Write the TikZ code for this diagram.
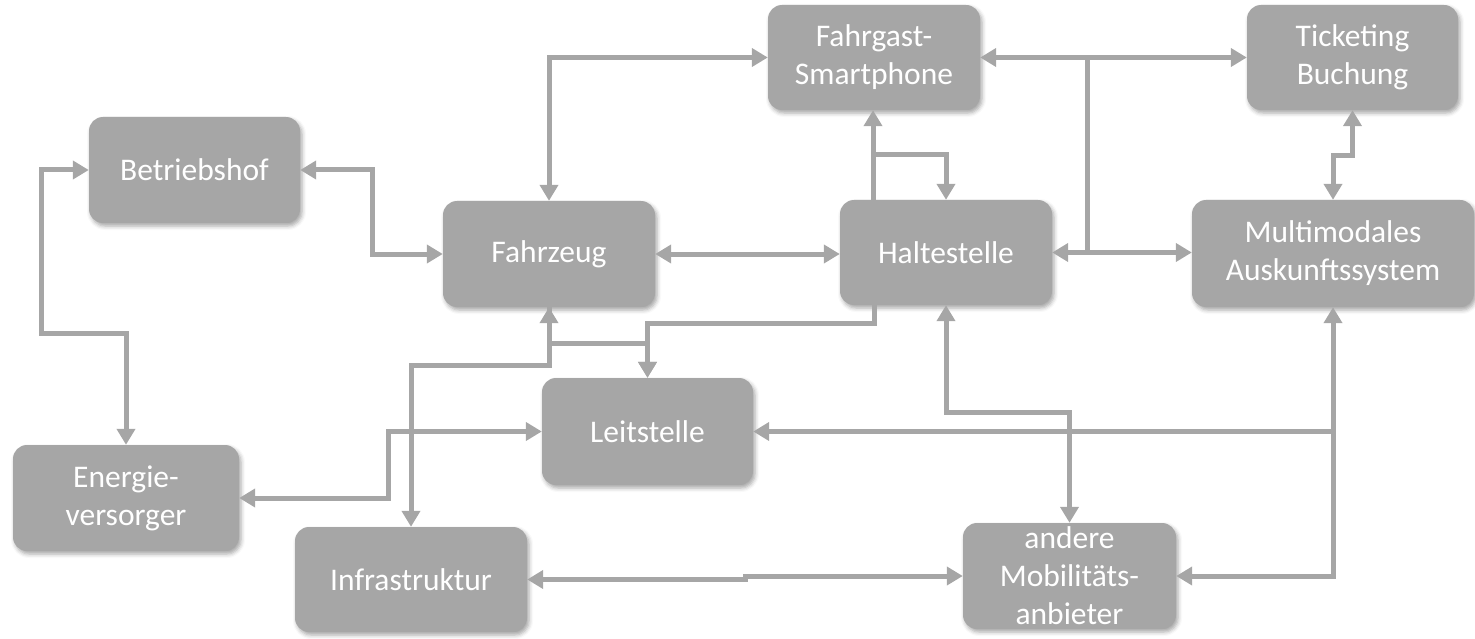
\documentclass[tikz,border=0pt]{standalone}
\usepackage{fontspec}
\setmainfont{Carlito}
\usetikzlibrary{arrows.meta,shadows.blur}
\definecolor{boxgray}{HTML}{A6A6A6}
\definecolor{linegray}{HTML}{A6A6A6}
\begin{document}
\begin{tikzpicture}[x=1pt,y=-1pt,
  >={Triangle[width=18pt,length=16pt]},
  box/.style={rounded corners=14pt, fill=boxgray, text=white, align=center,
    inner sep=0pt, font=\fontsize{31.5}{38}\selectfont,
    blur shadow={shadow xshift=2pt, shadow yshift=-3pt, shadow blur radius=4pt, shadow opacity=35}},
  conn/.style={draw=linegray, line width=5pt}]
\useasboundingbox (0,0) rectangle (1475,639);

% nodes
\node[box, minimum width=211pt, minimum height=106pt] (bh) at (194.5,170) {Betriebshof};
\node[box, minimum width=212pt, minimum height=106pt] (fz) at (549,254) {Fahrzeug};
\node[box, minimum width=212pt, minimum height=105pt] (sp) at (874,57.5) {Fahrgast-\\Smartphone};
\node[box, minimum width=211pt, minimum height=105pt] (tk) at (1352.5,57.5) {Ticketing\\Buchung};
\node[box, minimum width=212pt, minimum height=105pt] (hs) at (946,252.5) {Haltestelle};
\node[box, minimum width=282pt, minimum height=107pt] (mm) at (1333,253.5) {Multimodales\\Auskunftssystem};
\node[box, minimum width=211pt, minimum height=107pt] (ls) at (647.5,431.5) {Leitstelle};
\node[box, minimum width=226pt, minimum height=106pt] (ev) at (126,498) {Energie-\\versorger};
\node[box, minimum width=232pt, minimum height=105pt] (inf) at (411,579.5) {Infrastruktur};
\node[box, minimum width=213pt, minimum height=106pt] (am) at (1069.5,576) {andere\\Mobilitäts-\\anbieter};

% connectors
\draw[conn,<->] (bh.west) -- ++(-47,0) |- (126,333) -- (ev.north);
\draw[conn,<->] (bh.east) -- ++(72,0) |- (fz.west);
\draw[conn,<->] (fz.north) |- (sp.west);
\draw[conn,<->] (fz.east) -- (hs.west |- fz.east);
\draw[conn,<->] (sp.east) -- (tk.west);
\draw[conn] ([xshift=107pt]sp.east) -- ([xshift=35pt]hs.east);
\draw[conn,<->] (hs.east) -- (hs.east -| mm.west);
\draw[conn,->] ([xshift=-73pt]hs.north) -- ([xshift=-1pt]sp.south);
\draw[conn,->] (873,155) -| (hs.north);
\draw[conn,<->] (tk.south) -- ++(0,45) -| (mm.north);
\draw[conn,->] ([xshift=-72pt]hs.south) -- ++(0,18) -| (ls.north);
\draw[conn,<->] (fz.south) -- ++(0,36) -| (ls.north);
\draw[conn,->] (fz.south) -- ++(0,58) -| (inf.north);
\draw[conn,<->] (ev.east) -- ++(149,0) |- (ls.west);
\draw[conn,<->] (mm.south) |- (am.east);
\draw[conn,->] (mm.south |- ls.east) -- (ls.east);
\draw[conn,<->] (hs.south) -- ++(0,107) -| (am.north);
\draw[conn,<->] (inf.east) -- ++(218,0) |- (am.west);
\end{tikzpicture}
\end{document}
